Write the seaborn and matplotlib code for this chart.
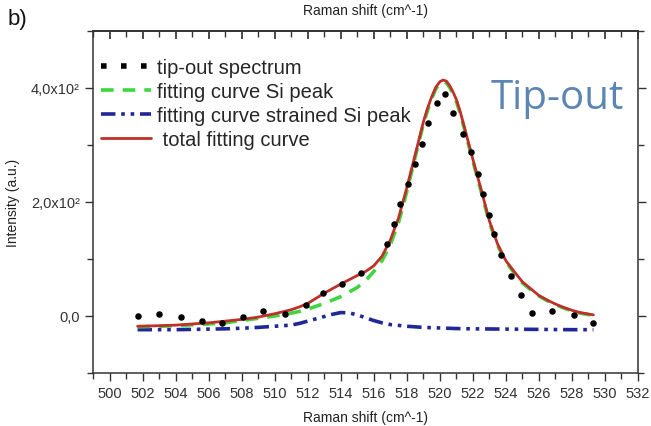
import matplotlib
matplotlib.use("Agg")
import matplotlib.pyplot as plt
import seaborn as sns
import pandas as pd
from matplotlib.lines import Line2D
from matplotlib.ticker import MultipleLocator, FixedLocator, FixedFormatter

# ---- data ----
spec_x = [501.7, 503.0, 504.3, 505.6, 506.8, 508.1, 509.3, 510.6, 511.9, 512.9,
          514.1, 515.2, 516.8, 517.2, 517.6, 518.1, 518.5, 518.9, 519.3, 519.8,
          520.3, 520.8, 521.4, 521.9, 522.3, 522.6, 523.0, 523.3, 523.7, 524.3,
          524.9, 525.6, 526.8, 528.1, 529.3]
spec_y = [0, 3, -1, -8, -12, -2, 8, 3, 19, 41,
          57, 75, 126, 161, 196, 232, 267, 302, 338, 373,
          389, 356, 320, 287, 250, 214, 178, 143, 107, 70,
          37, 6, 9, 2, -13]

fit_x = [501.7, 503, 504, 505, 506, 507, 508, 509, 510, 511, 511.5, 512, 513, 514,
         515, 515.5, 516, 516.5, 517, 517.5, 518, 518.5, 519, 519.25, 519.5, 519.75,
         520.0, 520.2, 520.4, 520.6, 520.8, 521, 521.25, 521.5, 522, 522.5, 523,
         523.5, 524, 524.5, 525, 525.5, 526, 526.5, 527, 527.5, 528, 528.5, 529.3]
total_y = [-18, -17, -16, -14, -12, -9, -6, -2, 4, 11, 16, 22, 40, 56,
           71, 78, 88, 105, 133, 172, 225, 282, 340, 364, 384, 401,
           411, 414, 412, 404, 393, 380, 357, 330, 275, 222, 167,
           126, 97, 78, 60, 48, 36, 28, 21, 15, 10, 6, 2]
si_y = [-19, -18, -17, -15.5, -14, -12, -8, -4, 0, 5, 8, 12, 22, 34,
        50, 62, 78, 97, 125, 164, 218, 278, 336, 360, 381, 398,
        408, 411, 409, 401, 390, 377, 354, 327, 272, 219, 164,
        124, 95, 76, 58, 46, 35, 27, 20, 14, 9, 5, 1]

strained_x = [501.7, 503, 504, 505, 506, 507, 508, 509, 510, 511, 511.5, 512, 512.5,
              513, 513.5, 514, 514.5, 515, 515.5, 516, 516.5, 517, 518, 519, 520,
              521, 522, 524, 526, 528, 529.3]
strained_y = [-24, -24, -24, -23.5, -23, -22.5, -21.5, -20, -18, -16, -13, -9, -5,
              -1, 3, 6, 5.5, 2, -3, -8, -12, -15, -18, -20, -21,
              -22, -22.5, -23, -23.5, -24, -24]

labels = ["tip-out spectrum", "fitting curve Si peak",
          "fitting curve strained Si peak", " total fitting curve"]
xticks_major = [500, 502, 504, 506, 508, 510, 512, 514, 516, 518, 520, 522, 524,
                526, 528, 530, 532]
yticks_major = [0, 200, 400]
ytick_labels = ["0,0", "2,0x10²", "4,0x10²"]

# ---- plot ----
sns.set_theme(style="white")
plt.rcParams["font.family"] = ["Liberation Sans", "DejaVu Sans"]

fig = plt.figure(figsize=(6.51, 4.27), dpi=100)
ax = fig.add_axes([93 / 651, 1 - 374 / 427, (638 - 93) / 651, (374 - 32) / 427])

c_red = "#c0302a"
c_green = "#3fd63f"
c_blue = "#1f2896"

sns.lineplot(x=strained_x, y=strained_y, ax=ax, color=c_blue, lw=2.6,
             linestyle=(0, (4, 1.6, 1, 1.6, 1, 1.6)), zorder=2)
sns.lineplot(x=fit_x, y=si_y, ax=ax, color=c_green, lw=2.6,
             linestyle=(0, (3.5, 2.5)), zorder=3)
sns.lineplot(x=fit_x, y=total_y, ax=ax, color=c_red, lw=2.0, zorder=4)
sns.scatterplot(x=spec_x, y=spec_y, ax=ax, color="black", s=22, marker="o",
                linewidth=0, zorder=5)

ax.set_xlim(499, 532)
ax.set_ylim(-100, 500)

ax.xaxis.set_major_locator(FixedLocator(xticks_major))
ax.xaxis.set_minor_locator(MultipleLocator(1))
ax.yaxis.set_major_locator(FixedLocator(yticks_major))
ax.yaxis.set_major_formatter(FixedFormatter(ytick_labels))
ax.yaxis.set_minor_locator(MultipleLocator(100))

ax.tick_params(axis="both", which="both", direction="out", color="#333333",
               labelcolor="#333333", labelsize=10.5)
ax.tick_params(axis="both", which="major", length=6, width=1)
ax.tick_params(axis="both", which="minor", length=4, width=1)
ax.tick_params(axis="y", which="both", right=True, left=True)
ax.tick_params(axis="x", which="both", bottom=True, top=False)

for sp in ax.spines.values():
    sp.set_color("#333333")
    sp.set_linewidth(1.1)
    sp.set_visible(True)

top = ax.secondary_xaxis("top")
top.xaxis.set_major_locator(FixedLocator(xticks_major))
top.xaxis.set_minor_locator(MultipleLocator(1))
top.tick_params(which="both", direction="in", labeltop=False, color="#333333")
top.tick_params(which="major", length=6)
top.tick_params(which="minor", length=4)
top.set_xlabel("Raman shift (cm^-1)", fontsize=10, color="#222222", labelpad=12)

ax.set_xlabel("Raman shift (cm^-1)", fontsize=10, color="#222222", labelpad=7)
ax.set_ylabel("Intensity (a.u.)", fontsize=10, color="#222222", labelpad=8)

handles = [
    Line2D([], [], color="black", linestyle=(0, (1, 2.6)), lw=4.0),
    Line2D([], [], color=c_green, linestyle=(0, (3.5, 2.5)), lw=2.6),
    Line2D([], [], color=c_blue, linestyle=(0, (4, 1.6, 1, 1.6, 1, 1.6)), lw=2.6),
    Line2D([], [], color=c_red, lw=2.0),
]
leg = ax.legend(handles, labels, loc="upper left", bbox_to_anchor=(0.0, 0.944),
                frameon=False, fontsize=14.5, handlelength=2.5, handletextpad=0.28,
                labelspacing=0.25, borderaxespad=0.0)

fig.text(8 / 651, 1 - 20 / 427, "b)", fontsize=16, color="#111111", va="center")
fig.text(557 / 651, 1 - 99 / 427, "Tip-out",
         fontsize=29, color="#5b85b3", ha="center", va="center",
         family=["Open Sans", "DejaVu Sans"])

fig.savefig("out.png", dpi=100)
